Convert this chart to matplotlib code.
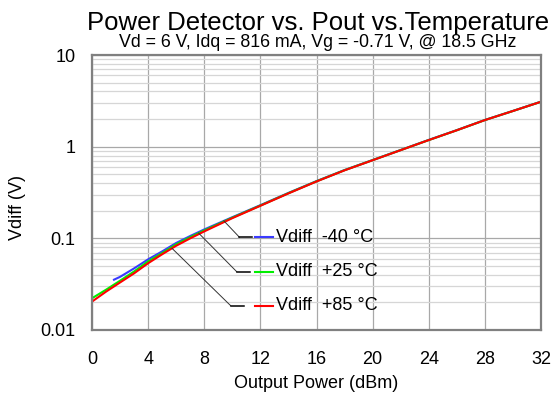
import numpy as np
import matplotlib
matplotlib.use("Agg")
import matplotlib.pyplot as plt
from matplotlib.ticker import FixedLocator, FixedFormatter, LogLocator, NullFormatter

plt.rcParams['font.family'] = ['Liberation Sans', 'DejaVu Sans']

# ---- data ----
pout_red = [0, 1, 2, 3, 4, 5, 6, 7, 8, 10, 12, 14, 16, 18, 20, 22, 24, 26, 28, 30, 32]
vdiff_red = [0.0204, 0.0262, 0.0330, 0.0415, 0.0535, 0.067, 0.083, 0.100, 0.119, 0.166,
             0.2265, 0.309, 0.417, 0.552, 0.711, 0.916, 1.18, 1.51, 1.95, 2.45, 3.09]
pout_green = [0, 1, 2, 3, 4, 5, 6, 7, 8, 10, 12, 14, 16, 18, 20, 22, 24, 26, 28, 30, 32]
vdiff_green = [0.0222, 0.0275, 0.0345, 0.0435, 0.056, 0.069, 0.086, 0.103, 0.122, 0.168,
               0.228, 0.311, 0.419, 0.554, 0.713, 0.918, 1.18, 1.51, 1.95, 2.45, 3.09]
pout_blue = [1.5, 2, 3, 4, 5, 6, 7, 8, 10, 12, 14, 16, 18, 20, 22, 24, 26, 28, 30, 32]
vdiff_blue = [0.035, 0.038, 0.047, 0.059, 0.072, 0.089, 0.106, 0.125, 0.170,
              0.230, 0.313, 0.421, 0.556, 0.715, 0.92, 1.185, 1.515, 1.955, 2.455, 3.10]

series_labels = ["Vdiff  -40 °C", "Vdiff  +25 °C", "Vdiff  +85 °C"]
series_colors = ["#3a3aff", "#00ee00", "#ff0000"]

x_ticks = [0, 4, 8, 12, 16, 20, 24, 28, 32]
y_ticks = [0.01, 0.1, 1, 10]
y_ticklabels = ["0.01", "0.1", "1", "10"]

title = "Power Detector vs. Pout vs.Temperature"
subtitle = "Vd = 6 V, Idq = 816 mA, Vg = -0.71 V, @ 18.5 GHz"

# ---- figure ----
W, H = 553, 400
fig = plt.figure(figsize=(W / 100, H / 100), dpi=100)
L, R, T, B = 92, 541, 55, 330
ax = fig.add_axes([L / W, 1 - B / H, (R - L) / W, (B - T) / H])

ax.set_yscale('log')
ax.set_xlim(0, 32)
ax.set_ylim(0.01, 10)

# grid
ax.xaxis.set_major_locator(FixedLocator(x_ticks))
ax.yaxis.set_major_locator(FixedLocator(y_ticks))
ax.yaxis.set_major_formatter(FixedFormatter(y_ticklabels))
ax.yaxis.set_minor_locator(LogLocator(base=10, subs=np.arange(2, 10)))
ax.yaxis.set_minor_formatter(NullFormatter())
ax.grid(True, which='major', axis='x', color='#a8a8a8', linewidth=0.9)
ax.grid(True, which='major', axis='y', color='#a8a8a8', linewidth=0.9)
ax.grid(True, which='minor', axis='y', color='#d6d6d6', linewidth=0.9)
ax.set_axisbelow(True)

for s in ax.spines.values():
    s.set_color('#808080')
    s.set_linewidth(1.6)

ax.tick_params(which='both', length=0)
ax.tick_params(axis='x', pad=15, labelsize=13)
ax.tick_params(axis='y', pad=12, labelsize=13)

# curves
data = [(pout_blue, vdiff_blue), (pout_green, vdiff_green), (pout_red, vdiff_red)]
for (xs, ys), c in zip(data, series_colors):
    ax.plot(xs, ys, color=c, linewidth=1.5, solid_capstyle='butt')

# leader-line legend
anchors = [9.4, 7.6, 5.7]
elbows = [(0.3285, 0.337), (0.3223, 0.212), (0.3085, 0.089)]
seg_end = [0.3563, 0.3519, 0.3396]
inv = ax.transAxes.inverted()
for (xs, ys), c, lab, ax_x, (ex, ey), se in zip(data, series_colors, series_labels,
                                                anchors, elbows, seg_end):
    ay = 10 ** np.interp(ax_x, xs, np.log10(ys))
    q0 = inv.transform(ax.transData.transform((ax_x, ay)))
    ax.plot([q0[0], ex], [q0[1], ey], transform=ax.transAxes, color='#333333',
            linewidth=0.7, clip_on=False)
    ax.plot([ex, se], [ey, ey], transform=ax.transAxes, color='black',
            linewidth=1.1, clip_on=False)
    ax.plot([0.363, 0.403], [ey, ey], transform=ax.transAxes, color=c,
            linewidth=1.5, clip_on=False)
    ax.text(0.410, ey, lab, transform=ax.transAxes, fontsize=13,
            va='center', ha='left', color='black')

fig.text(318 / W, 1 - 30 / H, title, fontsize=18.5, ha='center', va='baseline')
fig.text(318 / W, 1 - 47 / H, subtitle, fontsize=12.8, ha='center', va='baseline')
fig.text(316 / W, 1 - 383 / H, "Output Power (dBm)", fontsize=13, ha='center', va='center')
fig.text(17 / W, 1 - 208 / H, "Vdiff (V)", fontsize=13, ha='center', va='center',
         rotation=90)

fig.savefig("out.png", dpi=100)
